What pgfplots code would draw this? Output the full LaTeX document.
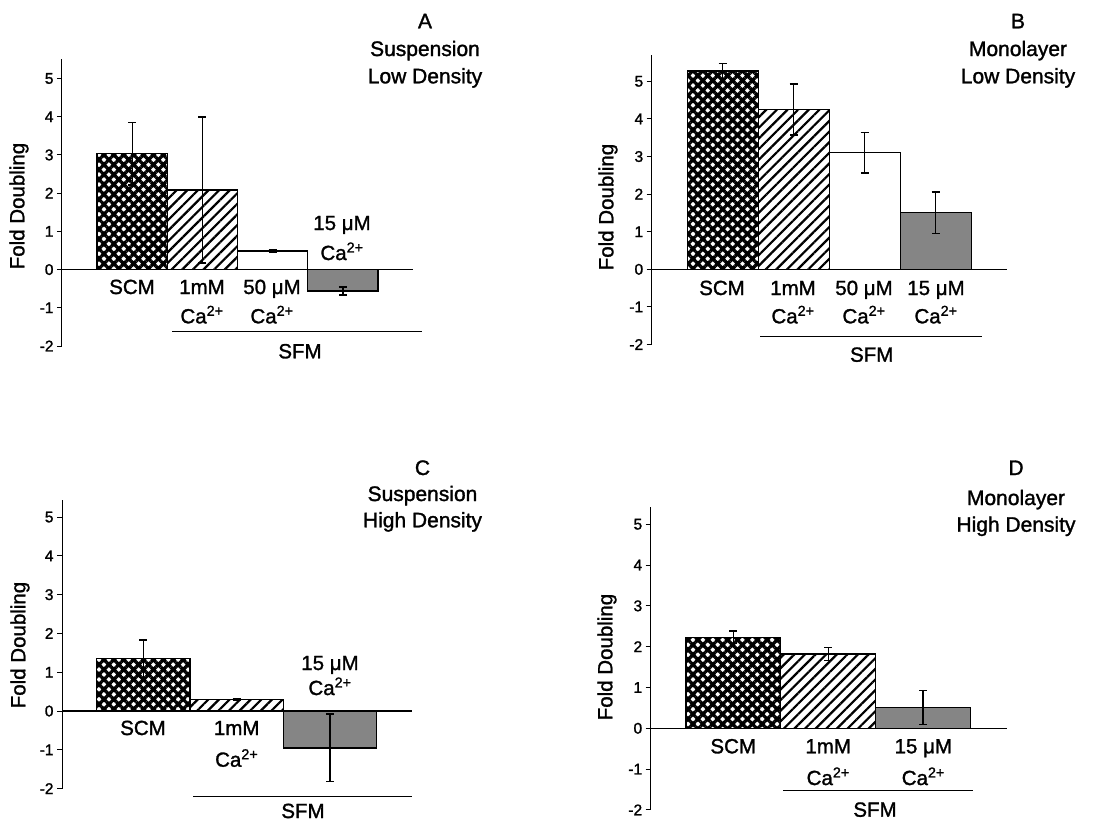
\documentclass[border=0pt]{standalone}
\usepackage{fontspec}
\setmainfont{Liberation Sans}[FakeBold=1.4]
\usepackage{pgfplots}
\pgfplotsset{compat=1.18}
\usetikzlibrary{patterns.meta}
\definecolor{stipple}{HTML}{858585}
\newcommand\lab{\fontsize{20.5}{24}\selectfont}
\newcommand\ttl{\fontsize{21}{25}\selectfont}
\newcommand\caa{Ca\textsuperscript{2+}}
\pgfplotsset{
  panel/.style={
    scale only axis, anchor=south west, clip=false,
    axis y line*=left, axis x line=none,
    ymin=-2, ytick={-2,-1,0,1,2,3,4,5},
    tick align=outside, major tick length=5pt,
    /pgf/number format/assume math mode=true,
    yticklabel style={font=\fontsize{15.5}{18}\selectfont},
    y axis line style={line width=1pt}, ytick style={line width=1pt, black},
  },
  mybar/.style={ybar, bar width=1, bar shift=0pt, draw=black, line width=1.4pt,
    error bars/y dir=both, error bars/y explicit,
    error bars/error bar style={line width=1.4pt, solid, black},
    error bars/error mark options={rotate=90, mark size=4pt, line width=1.4pt, black}},
  pSCM/.style={pattern={Hatch[angle=45,distance=7pt,line width=3.3pt]}, pattern color=black},
  pmM/.style={pattern={Lines[angle=45,distance=7.5pt,line width=2.2pt]}, pattern color=black},
  pfif/.style={fill=white},
  pfift/.style={fill=stipple},
}
\begin{document}
\begin{tikzpicture}
\path[use as bounding box] (0,0) rectangle (1115pt,-823pt);
% ---------------- A
\begin{axis}[panel, at={(62pt,-346pt)}, width=351pt, height=286.6pt,
  xmin=-1, xmax=4, ymax=5.5]
\addplot[mybar, pSCM] coordinates {(0,3.03) +- (0,0.82)};
\addplot[mybar, pmM] coordinates {(1,2.08) +- (0,1.91)};
\addplot[mybar, pfif] coordinates {(2,0.49) +- (0,0.03)};
\addplot[mybar, pfift] coordinates {(3,-0.56) +- (0,0.1)};
\draw[line width=1.3pt] (axis cs:-1,0) -- (axis cs:4,0);
\end{axis}
% ---------------- B
\begin{axis}[panel, at={(651.7pt,-344.5pt)}, width=355pt, height=289.5pt,
  xmin=-1, xmax=4, ymax=5.7]
\addplot[mybar, pSCM] coordinates {(0,5.27) +- (0,0.2)};
\addplot[mybar, pmM] coordinates {(1,4.25) +- (0,0.68)};
\addplot[mybar, pfif] coordinates {(2,3.1) +- (0,0.54)};
\addplot[mybar, pfift] coordinates {(3,1.51) +- (0,0.55)};
\draw[line width=1.3pt] (axis cs:-1,0) -- (axis cs:4,0);
\end{axis}
% ---------------- C
\begin{axis}[panel, at={(62pt,-788.6pt)}, width=350pt, height=288.6pt,
  xmin=-0.87, xmax=2.88, ymax=5.44]
\addplot[mybar, pSCM] coordinates {(0,1.35) +- (0,0.48)};
\addplot[mybar, pmM] coordinates {(1,0.29) +- (0,0.02)};
\addplot[mybar, pfift] coordinates {(2,-0.95) +- (0,0.87)};
\draw[line width=1.3pt] (axis cs:-0.87,0) -- (axis cs:2.88,0);
\end{axis}
% ---------------- D
\begin{axis}[panel, at={(650.7pt,-809.9pt)}, width=356pt, height=303.2pt,
  xmin=-0.87, xmax=2.88, ymax=5.43]
\addplot[mybar, pSCM] coordinates {(0,2.23) +- (0,0.15)};
\addplot[mybar, pmM] coordinates {(1,1.82) +- (0,0.16)};
\addplot[mybar, pfift] coordinates {(2,0.51) +- (0,0.41)};
\draw[line width=1.3pt] (axis cs:-0.87,0) -- (axis cs:2.88,0);
\end{axis}
% ---------------- texts
\begin{scope}[every node/.style={inner sep=0pt, anchor=base}]
% A
\node[font=\ttl] at (425pt,-28.3pt) {A};
\node[font=\ttl] at (425pt,-56pt) {Suspension};
\node[font=\ttl] at (425pt,-83.3pt) {Low Density};
\node[font=\lab] at (132pt,-294pt) {SCM};
\node[font=\lab] at (202pt,-294pt) {1mM};
\node[font=\lab] at (202pt,-323.3pt) {\caa};
\node[font=\lab] at (272pt,-294pt) {50 μM};
\node[font=\lab] at (272pt,-323.3pt) {\caa};
\node[font=\lab] at (342pt,-230pt) {15 μM};
\node[font=\lab] at (342pt,-260pt) {\caa};
\node[font=\lab] at (300pt,-358.3pt) {SFM};
\node[font=\lab, rotate=90, anchor=center] at (19pt,-206pt) {Fold Doubling};
% B
\node[font=\ttl] at (1018pt,-28.3pt) {B};
\node[font=\ttl] at (1018pt,-56pt) {Monolayer};
\node[font=\ttl] at (1018pt,-83.3pt) {Low Density};
\node[font=\lab] at (722pt,-295pt) {SCM};
\node[font=\lab] at (793pt,-295pt) {1mM};
\node[font=\lab] at (793pt,-323.3pt) {\caa};
\node[font=\lab] at (864pt,-295pt) {50 μM};
\node[font=\lab] at (864pt,-323.3pt) {\caa};
\node[font=\lab] at (936pt,-295pt) {15 μM};
\node[font=\lab] at (936pt,-323.3pt) {\caa};
\node[font=\lab] at (871.7pt,-361.7pt) {SFM};
\node[font=\lab, rotate=90, anchor=center] at (608pt,-207pt) {Fold Doubling};
% C
\node[font=\ttl] at (422.5pt,-475pt) {C};
\node[font=\ttl] at (422.5pt,-501pt) {Suspension};
\node[font=\ttl] at (422.5pt,-527.3pt) {High Density};
\node[font=\lab] at (143pt,-735pt) {SCM};
\node[font=\lab] at (236.7pt,-735pt) {1mM};
\node[font=\lab] at (236.7pt,-766.7pt) {\caa};
\node[font=\lab] at (330pt,-670pt) {15 μM};
\node[font=\lab] at (330pt,-695pt) {\caa};
\node[font=\lab] at (303pt,-818pt) {SFM};
\node[font=\lab, rotate=90, anchor=center] at (20pt,-645pt) {Fold Doubling};
% D
\node[font=\ttl] at (1016pt,-475pt) {D};
\node[font=\ttl] at (1016pt,-505pt) {Monolayer};
\node[font=\ttl] at (1016pt,-531.7pt) {High Density};
\node[font=\lab] at (733.2pt,-753.3pt) {SCM};
\node[font=\lab] at (828.2pt,-753.3pt) {1mM};
\node[font=\lab] at (828.2pt,-785pt) {\caa};
\node[font=\lab] at (923.3pt,-753.3pt) {15 μM};
\node[font=\lab] at (923.3pt,-785pt) {\caa};
\node[font=\lab] at (875pt,-816.7pt) {SFM};
\node[font=\lab, rotate=90, anchor=center] at (607pt,-657pt) {Fold Doubling};
\end{scope}
% SFM lines
\draw[line width=1pt] (172pt,-331.7pt) -- (422pt,-331.7pt);
\draw[line width=1pt] (760pt,-336.7pt) -- (982pt,-336.7pt);
\draw[line width=1pt] (193pt,-796pt) -- (412pt,-796pt);
\draw[line width=1pt] (783pt,-790.7pt) -- (973pt,-790.7pt);
\end{tikzpicture}
\end{document}
